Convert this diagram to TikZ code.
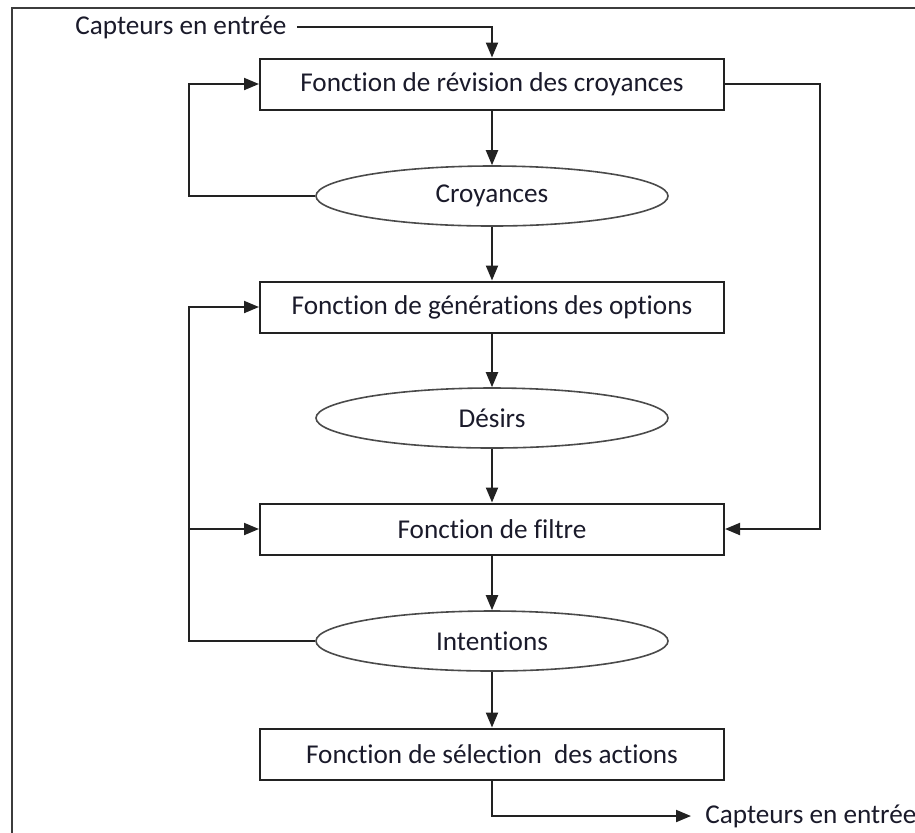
\documentclass[tikz,border=0pt]{standalone}
\usepackage{fontspec}
\setmainfont{Carlito}[Ligatures=NoCommon]
\usepackage{xcolor}
\usetikzlibrary{arrows.meta,shapes.geometric}
\definecolor{ink}{HTML}{1A1A2A}
\definecolor{edge}{HTML}{222222}
\definecolor{oval}{HTML}{4A4A4A}
\definecolor{frame}{HTML}{3C3C3C}
\tikzset{
  funcBox/.style={draw=edge, line width=1pt, minimum width=232pt, minimum height=25.5pt, inner sep=0pt, text=ink},
  stateOval/.style={ellipse, draw=oval, line width=0.8pt, minimum width=176pt, minimum height=30pt, inner sep=0pt, text=ink},
  sensLab/.style={inner sep=0pt, text=ink},
  flow/.style={draw=edge, line width=1pt, -{Triangle[length=7.5pt,width=6pt]}},
  frameLine/.style={draw=frame, line width=1.1pt}
}

\begin{document}
\begin{tikzpicture}[x=0.5pt, y=-0.5pt, font=\fontsize{13.6}{16}\selectfont]
  \useasboundingbox (0,0) rectangle (915,832);

  % outer frame
  \draw[frameLine] (12,8) rectangle (960,880);

  % loop guides
  \coordinate (loopL) at (189,0);
  \coordinate (loopR) at (820,0);

  % functions and states
  \node[funcBox] (revision) at (492,84) {Fonction de révision des croyances};
  \node[stateOval] (croyances) at (492,196) {Croyances};
  \node[funcBox] (generation) at (492,307) {Fonction de générations des options};
  \node[stateOval] (desirs) at (492,418) {Désirs};
  \node[funcBox] (filtre) at (492,529) {Fonction de filtre};
  \node[stateOval] (intentions) at (492,641) {Intentions};
  \node[funcBox] (selection) at (492,754) {Fonction de sélection~ des actions};

  % sensors
  \node[sensLab, anchor=west] (entree) at (75,27) {Capteurs en entrée};
  \node[sensLab, anchor=west] (sortie) at (705,816) {Capteurs en entrée};

  % main flow
  \draw[flow] ([xshift=5pt]entree.east) -| (revision.north);
  \draw[flow] (revision.south) -- (croyances.north);
  \draw[flow] (croyances.south) -- (generation.north);
  \draw[flow] (generation.south) -- (desirs.north);
  \draw[flow] (desirs.south) -- (filtre.north);
  \draw[flow] (filtre.south) -- (intentions.north);
  \draw[flow] (intentions.south) -- (selection.north);
  \draw[flow] (selection.south) |- ([xshift=-7pt]sortie.west);

  % feedback loops
  \draw[flow] (croyances.west) -- (croyances.west -| loopL) |- (revision.west);
  \draw[flow] (revision.east) -- (revision.east -| loopR) |- (filtre.east);
  \draw[flow] (intentions.west) -- (intentions.west -| loopL) |- (generation.west);
  \draw[flow] (filtre.west -| loopL) -- (filtre.west);
\end{tikzpicture}
\end{document}
